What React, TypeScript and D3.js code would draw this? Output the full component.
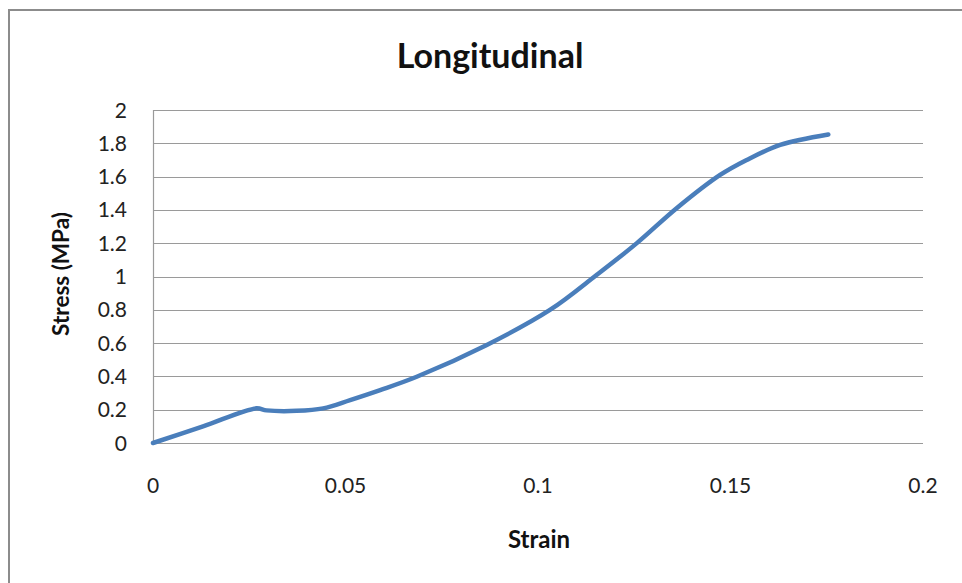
import { useRef, useEffect } from 'react';
import * as d3 from 'd3';

const strain = [0, 0.013, 0.0268, 0.0295, 0.0373, 0.0442, 0.0512, 0.059, 0.0685, 0.0867, 0.1031, 0.1152, 0.1256, 0.136, 0.1473, 0.1542, 0.1629, 0.1754];
const stress = [0, 0.1, 0.208, 0.196, 0.193, 0.208, 0.258, 0.318, 0.398, 0.589, 0.799, 1.009, 1.199, 1.41, 1.61, 1.7, 1.79, 1.853];
const xTicks = [0, 0.05, 0.1, 0.15, 0.2];
const yTicks = [0, 0.2, 0.4, 0.6, 0.8, 1, 1.2, 1.4, 1.6, 1.8, 2];

const App = () => {
  const svgRef = useRef<SVGSVGElement>(null);

  useEffect(() => {
    const svg = d3.select(svgRef.current);
    svg.selectAll('*').remove();
    const width = 962;
    const height = 583;
    const font = 'Lato, "Open Sans", sans-serif';

    const x = d3.scaleLinear().domain([0, 0.2]).range([153, 923]);
    const y = d3.scaleLinear().domain([0, 2]).range([443, 110]);

    svg.attr('width', width).attr('height', height);

    // outer chart frame
    svg.append('rect')
      .attr('x', 9).attr('y', 10)
      .attr('width', 1000).attr('height', 1000)
      .attr('fill', 'white')
      .attr('stroke', '#8c8c8c')
      .attr('stroke-width', 2);

    svg.append('g')
      .selectAll('line')
      .data(yTicks)
      .join('line')
      .attr('x1', x(0)).attr('x2', x(0.2))
      .attr('y1', d => Math.round(y(d)) + 0.5)
      .attr('y2', d => Math.round(y(d)) + 0.5)
      .attr('stroke', '#9a9a9a')
      .attr('stroke-width', 1.2);

    svg.append('line')
      .attr('x1', x(0) + 0.5).attr('x2', x(0) + 0.5)
      .attr('y1', y(2)).attr('y2', y(0))
      .attr('stroke', '#9a9a9a')
      .attr('stroke-width', 1.2);

    svg.append('g')
      .selectAll('text')
      .data(yTicks)
      .join('text')
      .attr('x', 127)
      .attr('y', d => y(d))
      .attr('dy', '0.36em')
      .attr('text-anchor', 'end')
      .attr('font-family', font)
      .attr('font-size', 21)
      .attr('fill', '#222')
      .text(d => String(d));

    svg.append('g')
      .selectAll('text')
      .data(xTicks)
      .join('text')
      .attr('x', d => x(d))
      .attr('y', 485)
      .attr('dy', '0.36em')
      .attr('text-anchor', 'middle')
      .attr('font-family', font)
      .attr('font-size', 21)
      .attr('fill', '#222')
      .text(d => String(d));

    const line = d3.line<number>()
      .x((d, i) => x(strain[i]))
      .y(d => y(d))
      .curve(d3.curveCatmullRom.alpha(0.5));

    svg.append('path')
      .datum(stress)
      .attr('d', line)
      .attr('fill', 'none')
      .attr('stroke', '#4a7ebb')
      .attr('stroke-width', 4.5)
      .attr('stroke-linecap', 'round')
      .attr('stroke-linejoin', 'round');

    svg.append('text')
      .attr('x', 490).attr('y', 56)
      .attr('dy', '0.36em')
      .attr('text-anchor', 'middle')
      .attr('font-family', font)
      .attr('font-weight', 700)
      .attr('font-size', 34)
      .attr('fill', '#111')
      .text('Longitudinal');

    svg.append('text')
      .attr('x', 539).attr('y', 539)
      .attr('dy', '0.36em')
      .attr('text-anchor', 'middle')
      .attr('font-family', font)
      .attr('font-weight', 700)
      .attr('font-size', 24)
      .attr('fill', '#111')
      .text('Strain');

    svg.append('text')
      .attr('transform', 'translate(61,274) rotate(-90)')
      .attr('dy', '0.36em')
      .attr('text-anchor', 'middle')
      .attr('font-family', font)
      .attr('font-weight', 700)
      .attr('font-size', 22.5)
      .attr('fill', '#111')
      .text('Stress (MPa)');
  }, []);

  return <svg ref={svgRef} style={{ position: 'absolute', left: 0, top: 0, display: 'block' }}></svg>;
};

export default App;
